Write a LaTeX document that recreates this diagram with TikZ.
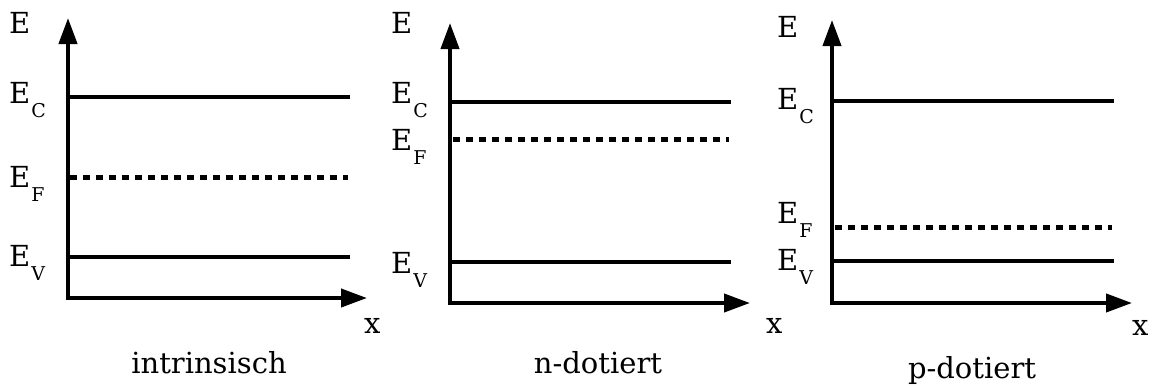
\documentclass[tikz,border=0pt]{standalone}
\usepackage{fontspec}
\setmainfont{DejaVu Serif}
\usetikzlibrary{arrows.meta}
\newcommand{\lvlab}[1]{E\kern1pt\raisebox{-14pt}{\fontsize{19}{19}\selectfont #1}}
\tikzset{
  axis/.style={line width=4pt, -{Triangle[length=26pt,width=18pt]}},
  level/.style={line width=3.5pt},
  fermi/.style={line width=5pt, dash pattern=on 7pt off 6pt},
  lab/.style={anchor=base west, inner sep=0pt, font=\fontsize{29}{29}\selectfont},
  caption/.style={anchor=base, inner sep=0pt, font=\fontsize{29}{29}\selectfont}
}
\begin{document}
\begin{tikzpicture}[x=1pt,y=-1pt]
\useasboundingbox (0,0) rectangle (1153,386);
% ---------- panel 1: intrinsisch
\coordinate (t1) at (68,18);
\coordinate (r1) at (367,298);
\draw[axis] (68,300) -- (t1);
\draw[axis] (66,298) -- (r1);
\coordinate (c1a) at (68,97);  \coordinate (c1b) at (350,97);
\coordinate (f1a) at (70,177); \coordinate (f1b) at (348,177);
\coordinate (v1a) at (68,257); \coordinate (v1b) at (350,257);
\draw[level] (c1a) -- (c1b);
\draw[fermi] (f1a) -- (f1b);
\draw[level] (v1a) -- (v1b);
\node[lab] (E1) at (9,33) {E};
\node[lab] (EC1) at (9,103) {\lvlab{C}};
\node[lab] (EF1) at (9,187) {\lvlab{F}};
\node[lab] (EV1) at (9,266) {\lvlab{V}};
\node[lab] (x1) at (364,333) {x};
\node[caption] (cap1) at (209,373) {intrinsisch};
% ---------- panel 2: n-dotiert
\coordinate (t2) at (450,23);
\coordinate (r2) at (750,303);
\draw[axis] (450,305) -- (t2);
\draw[axis] (448,303) -- (r2);
\coordinate (c2a) at (450,102); \coordinate (c2b) at (731,102);
\coordinate (f2a) at (453,139); \coordinate (f2b) at (729,139);
\coordinate (v2a) at (450,262); \coordinate (v2b) at (731,262);
\draw[level] (c2a) -- (c2b);
\draw[fermi] (f2a) -- (f2b);
\draw[level] (v2a) -- (v2b);
\node[lab] (E2) at (391,33) {E};
\node[lab] (EC2) at (391,103) {\lvlab{C}};
\node[lab] (EF2) at (391,150) {\lvlab{F}};
\node[lab] (EV2) at (391,273) {\lvlab{V}};
\node[lab] (x2) at (766,333) {x};
\node[caption] (cap2) at (598,373) {n-dotiert};
% ---------- panel 3: p-dotiert
\coordinate (t3) at (832,20);
\coordinate (r3) at (1132,303);
\draw[axis] (832,305) -- (t3);
\draw[axis] (830,303) -- (r3);
\coordinate (c3a) at (832,101); \coordinate (c3b) at (1114,101);
\coordinate (f3a) at (835,227); \coordinate (f3b) at (1112,227);
\coordinate (v3a) at (832,261); \coordinate (v3b) at (1114,261);
\draw[level] (c3a) -- (c3b);
\draw[fermi] (f3a) -- (f3b);
\draw[level] (v3a) -- (v3b);
\node[lab] (E3) at (777,37) {E};
\node[lab] (EC3) at (777,109) {\lvlab{C}};
\node[lab] (EF3) at (777,223) {\lvlab{F}};
\node[lab] (EV3) at (777,270) {\lvlab{V}};
\node[lab] (x3) at (1132,335) {x};
\node[caption] (cap3) at (972,378) {p-dotiert};
\end{tikzpicture}
\end{document}
